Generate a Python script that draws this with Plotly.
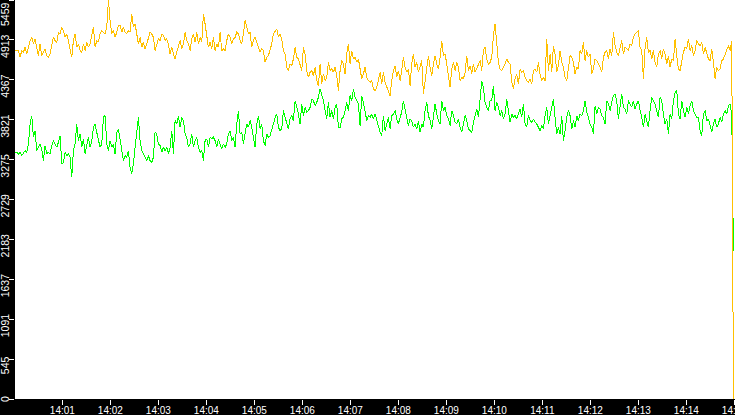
import pandas as pd
import plotly.graph_objects as go

# Yellow series (upper)
yellow_a = [4767,4767,4767,4675,4767,4744,4812,4721,4835,4904,
4949,4858,4926,4790,4698,4858,4698,4744,4790,4698,
4675,4721,4835,4949,4904,4881,5018,4995,5086,5040,
4949,4995,4904,4790,4675,4904,4995,4812,4858,4767,
4744,4858,4767,4881,4812,4858,4995,5086,4812,4904,
4881,4995,5040,5018,4995,5086,5459,5177,4995,5040,
4949,5018,5109,5109,5018,5086,5018,4995,5040,5018,
5269,5086,5132,4995,4858,4949,4812,4881,4790,4858,
4926,5018,4995,4949,4767,4858,4926,4904,4995,4972,
4904,4926,4858,4721,4812,4721,4653,4744,4812,4904,
4790,4858,5018,4904,4858,4767,4926,4995,4881,5018,
4858,4949,4881,5269,5132,4926,4812,4881,4790,4949,
4767,4858,4812,5018,4767,4790,4767,4904,4995,4949,
4858,4926,4949,5018,4995,4904,4858,4995,5177,5086,
4995,5018]
yellow_b = [4812,4904,4949,4881,4812,4744,4790,4767,4607,4675,
4698,4767,4858,4995,5040,5063,4949,4995,4926,4767,
4721,4539,4493,4584,4561,4653,4812,4675,4653,4584,
4493,4812,4721,4493,4402,4470,4493,4425,4539,4356,
4288,4584,4311,4447,4356,4402,4607,4493,4516,4470,
4539,4425,4219,4493,4630,4584,4447,4721,4858,4584,
4767,4653,4675,4607,4653,4516,4379,4447,4539,4402,
4356,4333,4356,4242,4219,4265,4379,4470,4311,4470,
4333,4265,4196,4151,4356,4493,4561,4402,4493,4356,
4493,4675,4539,4470,4516,4288,4584,4721,4539,4607,
4470,4539,4630,4174,4356,4493,4698,4539,4425,4584,
4698,4584,4516,4675,4904,4698,4721,4584,4402,4265,
4516,4607,4493,4607,4539,4356,4402,4379,4470,4698,
4493,4561,4447,4584,4470,4516,4584,4630,4493,4767,
4812,4653,4584,4607]
yellow_c = [4675,4972,5132,4881,4607,4516,4493,4539,4584,4653,
4607,4584,4333,4242,4379,4447,4311,4516,4470,4493,
4402,4356,4333,4379,4311,4493,4516,4470,4607,4447,
4356,4402,4356,4926,4493,4721,4470,4835,4721,4470,
4561,4767,4607,4539,4402,4356,4516,4698,4675,4607,
4447,4539,4516,4767,4721,4881,4630,4767,4675,4721,
4447,4516,4653,4630,4584,4539,4470,4675,4744,4767,
4653,4790,4698,5018,4835,4744,4698,4812,4904,4721,
4812,4790,4767,4858,4835,4949,4995,5018,5040,4812,
4767,4379,4812,4949,4744,4767,4653,4767,4607,4539,
4721,4767,4653,4790,4721,4584,4698,4539,4653,4630,
4926,4698,4516,4493,4653,4744,4812,4790,4926,4767,
4835,4698,4767,4904,4858,4835,4881,4721,4812,4721,
4653,4630,4790,4607,4379,4539,4493,4516,4630,4653,
4721,4790,4835,4767,4904,0]

# Green series (lower)
green_a = [3375,3375,3353,3375,3330,3375,3398,3375,3489,3763,
3877,3581,3672,3398,3444,3489,3421,3261,3467,3353,
3375,3353,3467,3535,3489,3444,3512,3603,3216,3238,
3375,3330,3353,3307,3033,3398,3489,3763,3535,3626,
3444,3558,3353,3489,3581,3444,3535,3717,3763,3649,
3535,3444,3489,3854,3877,3489,3398,3535,3444,3489,
3353,3649,3695,3535,3444,3261,3330,3307,3398,3170,
3079,3216,3444,3626,3854,3535,3398,3353,3307,3261,
3330,3261,3238,3307,3649,3626,3489,3467,3375,3444,
3398,3444,3353,3444,3672,3353,3809,3763,3877,3717,
3854,3809,3626,3581,3444,3489,3626,3444,3535,3581,
3444,3375,3398,3261,3535,3558,3444,3581,3558,3581,
3535,3444,3558,3489,3421,3489,3444,3489,3626,3672,
3535,3581,3444,3763,3946,3626,3649,3489,3626,3763,
3717,3809]
green_b = [3717,3581,3444,3763,3877,3695,3763,3535,3467,3626,
3581,3603,3672,3763,3854,3900,3717,3672,3695,3946,
3854,3763,3695,3832,3877,3809,4082,3991,3900,3763,
4037,3877,3991,3923,3946,3991,4105,4082,4014,4060,
4128,4242,4174,4082,3946,3832,4060,3854,3946,3832,
3991,4037,3717,3717,3832,3854,3946,4060,3946,4151,
4082,4242,4128,4082,4037,3740,4151,4060,3900,3809,
3877,3854,3900,3832,3900,3809,3717,3649,3603,3877,
3672,3763,3854,3695,3877,3900,3946,3832,3763,3854,
3923,4082,3968,3809,3740,3832,3809,3717,3763,3695,
3809,3649,3763,3717,3946,4060,3877,3809,3695,3854,
4037,3900,3809,3763,4082,3946,3991,3877,3832,3740,
3946,3877,3786,3763,3832,3717,3649,3763,3877,3809,
3695,3672,3649,3786,3900,3968,3854,4128,4356,4265,
4060,3991,3946,4082]
green_c = [4082,4288,3946,4060,3991,3877,3946,3832,3900,4105,
3946,3786,3900,3854,3877,3832,3900,3968,3854,4037,
3763,3717,3877,3809,3786,3832,3786,3763,3717,3672,
3740,3695,3877,3991,3763,3877,3946,4105,3854,3626,
3717,3626,3877,3535,3672,3854,3946,3877,3695,3809,
3717,3877,3809,3900,3877,3946,4082,3923,3854,3763,
3717,3626,4014,3900,3991,3968,3877,3854,3763,4082,
4037,3946,4060,4151,4174,4082,3832,4037,4174,3991,
3968,3900,4082,4037,3991,4082,3968,4037,4082,3946,
3854,3717,3900,3809,3717,3946,4128,4082,4037,3946,
3854,4128,4082,3900,3763,3832,3626,3900,3832,4082,
4196,4219,3900,3832,4082,3946,3854,3991,3900,4014,
4082,3946,3900,3854,3854,3672,3603,3900,3946,3809,
3832,3717,3649,3763,3832,3717,3763,3854,3786,3900,
3946,3900,4014,4037,3900,2030]

yellow = yellow_a + yellow_b + yellow_c
green = green_a + green_b + green_c

y_ticks = [0, 545, 1091, 1637, 2183, 2729, 3275, 3821, 4367, 4913, 5459]
y_tick_labels = [str(v) for v in y_ticks]

start_time = pd.Timestamp("2024-01-01 14:00:00.9")
sample_step = pd.Timedelta(seconds=25 / 12)
times = pd.date_range(start_time, periods=len(yellow), freq=sample_step)

FONT = "Liberation Sans, Arial, sans-serif"

fig = go.Figure()
fig.add_trace(go.Scatter(x=times, y=green, mode="lines",
                         line=dict(color="#00FF00", width=1), hoverinfo="skip"))
fig.add_trace(go.Scatter(x=times, y=yellow, mode="lines",
                         line=dict(color="#FFC000", width=1), hoverinfo="skip"))

# rotated y tick labels, sitting slightly below their tick (kept inside the plot height)
for i, (v, t) in enumerate(zip(y_ticks, y_tick_labels)):
    if i == len(y_ticks) - 1:
        shift = -14
    elif i == 0:
        shift = 0
    else:
        shift = -6
    fig.add_annotation(x=0, xref="paper", y=v, yref="y", text=t,
                       textangle=-90, showarrow=False,
                       xanchor="right", yanchor="middle",
                       xshift=-3, yshift=shift, borderpad=0,
                       font=dict(family=FONT, size=10.5, color="white"))

fig.update_layout(
    width=735, height=415,
    margin=dict(l=15, r=0, t=0, b=16, autoexpand=False),
    paper_bgcolor="black", plot_bgcolor="white",
    showlegend=False,
    font=dict(family=FONT, size=10.5, color="white"),
)
fig.update_xaxes(
    type="date", automargin=False,
    range=["2024-01-01 14:00:00.8", "2024-01-01 14:15:00.8"],
    tick0="2024-01-01 14:00:00", dtick=60000, tickformat="%H:%M",
    ticks="outside", ticklen=5, tickwidth=1, tickcolor="white",
    tickfont=dict(family=FONT, size=10, color="white"),
    ticklabelstandoff=-3, ticklabeloverflow="allow",
    showgrid=False, zeroline=False, showline=False,
)
fig.update_yaxes(
    automargin=False,
    range=[0, 5459],
    tickmode="array", tickvals=y_ticks, showticklabels=False,
    ticks="outside", ticklen=5, tickwidth=1, tickcolor="white",
    showgrid=False, zeroline=False, showline=False,
)

fig.write_html(
    "out.html",
    config={"displayModeBar": False},
    post_script=(
        "document.body.style.margin='0';document.body.style.padding='0';"
        "document.body.style.overflow='hidden';document.body.style.background='black';"
        "document.querySelectorAll('.scatterlayer path, .xtick, .ytick, path.xtick, path.ytick')"
        ".forEach(function(p){p.style.shapeRendering='crispEdges';});"
    ),
)
